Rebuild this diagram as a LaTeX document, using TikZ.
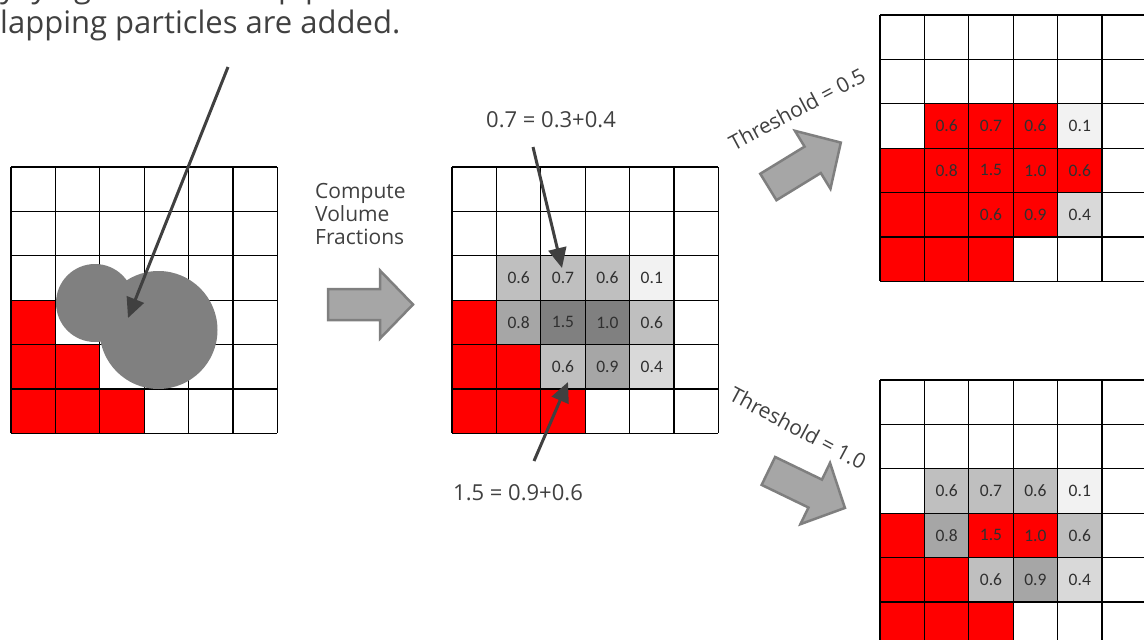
\documentclass[tikz,border=0pt]{standalone}
\usepackage{fontspec}
\setmainfont{Open Sans}
\newfontfamily\numfont{Carlito}
\usetikzlibrary{arrows.meta}
\definecolor{txt}{HTML}{404040}
\definecolor{numc}{HTML}{303030}
\definecolor{gA}{HTML}{BFBFBF}
\definecolor{gB}{HTML}{A6A6A6}
\definecolor{gC}{HTML}{808080}
\definecolor{gD}{HTML}{D9D9D9}
\definecolor{gE}{HTML}{F2F2F2}
\definecolor{redc}{HTML}{FF0000}
\definecolor{arrfill}{HTML}{A6A6A6}
\definecolor{arrline}{HTML}{7F7F7F}
\newcommand\csz{44.4}
\newcommand\cellval[5]{\fill[#4] ({#3*\csz},{#2*\csz}) rectangle ++(\csz,\csz);
  \node[numtxt] (#1-#2-#3) at ({(#3+0.5)*\csz},{(#2+0.5)*\csz}) {#5};}
\newcommand\cellred[2]{\fill[redc] ({#2*\csz},{#1*\csz}) rectangle ++(\csz,\csz);}
\newcommand\gridlines{\foreach \i in {0,...,6} {
  \draw[gridline] ({\i*\csz},0) -- ({\i*\csz},{6*\csz});
  \draw[gridline] (0,{\i*\csz}) -- ({6*\csz},{\i*\csz});}}
\tikzset{
  gridline/.style={draw=black, line width=1.1pt},
  numtxt/.style={font=\numfont\fontsize{17.5}{19}\selectfont, text=numc, inner sep=0pt},
  lbl/.style={font=\fontsize{21}{23.3}\selectfont, text=txt, inner sep=0pt},
  pointer/.style={draw=txt, line width=3pt, -{Triangle[length=20pt,width=18pt]}},
  particle/.style={fill=gC},
  blockarrow/.pic={\draw[fill=arrfill, draw=arrline, line width=2.5pt, line join=miter]
    (1,-15.5) -- (53,-15.5) -- (53,-34) -- (86,0) -- (53,34) -- (53,15.5) -- (1,15.5) -- cycle;}
}
\begin{document}
\begin{tikzpicture}[x=1pt,y=-1pt]
\useasboundingbox (0,0) rectangle (1144,640);
\clip (0,0) rectangle (1144,640);

% top text
\node[anchor=base west, inner sep=0pt, text=txt, font=\fontsize{31}{36}\selectfont] (topA) at (-8,-3) {ly lying in the overlap p};
\node[anchor=base west, inner sep=0pt, text=txt, font=\fontsize{31}{36}\selectfont] (topB) at (0,33) {lapping particles are added.};

% grid 1
\begin{scope}[shift={(11,167)}]
  \cellred{3}{0}\cellred{4}{0}\cellred{4}{1}\cellred{5}{0}\cellred{5}{1}\cellred{5}{2}
  \gridlines
  \fill[particle] (84,136) circle[radius=39pt];
  \fill[particle] (147.5,163) circle[radius=59pt];
\end{scope}
\coordinate (p1s) at (228,67);
\coordinate (p1e) at (128,318);
\draw[pointer] (p1s) -- (p1e);

% compute label + arrow
\node[lbl, anchor=base west, align=left] (compute) at (315,244.6) {Compute\\Volume\\Fractions};
\pic at (327,304.5) {blockarrow};

% grid 2
\begin{scope}[shift={(452,167)}]
  \cellval{m}{2}{1}{gA}{0.6}\cellval{m}{2}{2}{gA}{0.7}\cellval{m}{2}{3}{gA}{0.6}\cellval{m}{2}{4}{gE}{0.1}
  \cellred{3}{0}\cellval{m}{3}{1}{gB}{0.8}\cellval{m}{3}{2}{gC}{1.5}\cellval{m}{3}{3}{gC}{1.0}\cellval{m}{3}{4}{gA}{0.6}
  \cellred{4}{0}\cellred{4}{1}\cellval{m}{4}{2}{gA}{0.6}\cellval{m}{4}{3}{gB}{0.9}\cellval{m}{4}{4}{gD}{0.4}
  \cellred{5}{0}\cellred{5}{1}\cellred{5}{2}
  \gridlines
\end{scope}
\node[lbl, font=\fontsize{22}{24}\selectfont] (sumA) at (551,120) {0.7 = 0.3+0.4};
\node[lbl, font=\fontsize{22}{24}\selectfont] (sumB) at (518,493) {1.5 = 0.9+0.6};
\coordinate (p2s) at (533,147);
\coordinate (p2e) at (562,268);
\coordinate (p3s) at (534,461);
\coordinate (p3e) at (568,382);
\draw[pointer] (p2s) -- (p2e);
\draw[pointer] (p3s) -- (p3e);

% threshold arrows
\pic[rotate=31.5] at (767.5,187.5) {blockarrow};
\pic[rotate=-25.8] at (767.5,470.5) {blockarrow};
\node[lbl, rotate=28] (thA) at (797,109) {Threshold = 0.5};
\node[lbl, rotate=-28] (thB) at (798,428) {Threshold = 1.0};

% grid 3 (threshold 0.5)
\begin{scope}[shift={(880,15)}]
  \cellval{a}{2}{1}{redc}{0.6}\cellval{a}{2}{2}{redc}{0.7}\cellval{a}{2}{3}{redc}{0.6}\cellval{a}{2}{4}{gE}{0.1}
  \cellred{3}{0}\cellval{a}{3}{1}{redc}{0.8}\cellval{a}{3}{2}{redc}{1.5}\cellval{a}{3}{3}{redc}{1.0}\cellval{a}{3}{4}{redc}{0.6}
  \cellred{4}{0}\cellred{4}{1}\cellval{a}{4}{2}{redc}{0.6}\cellval{a}{4}{3}{redc}{0.9}\cellval{a}{4}{4}{gD}{0.4}
  \cellred{5}{0}\cellred{5}{1}\cellred{5}{2}
  \gridlines
\end{scope}

% grid 4 (threshold 1.0)
\begin{scope}[shift={(880,380)}]
  \cellval{b}{2}{1}{gA}{0.6}\cellval{b}{2}{2}{gA}{0.7}\cellval{b}{2}{3}{gA}{0.6}\cellval{b}{2}{4}{gE}{0.1}
  \cellred{3}{0}\cellval{b}{3}{1}{gB}{0.8}\cellval{b}{3}{2}{redc}{1.5}\cellval{b}{3}{3}{redc}{1.0}\cellval{b}{3}{4}{gA}{0.6}
  \cellred{4}{0}\cellred{4}{1}\cellval{b}{4}{2}{gA}{0.6}\cellval{b}{4}{3}{gB}{0.9}\cellval{b}{4}{4}{gD}{0.4}
  \cellred{5}{0}\cellred{5}{1}\cellred{5}{2}
  \gridlines
\end{scope}
\end{tikzpicture}
\end{document}
